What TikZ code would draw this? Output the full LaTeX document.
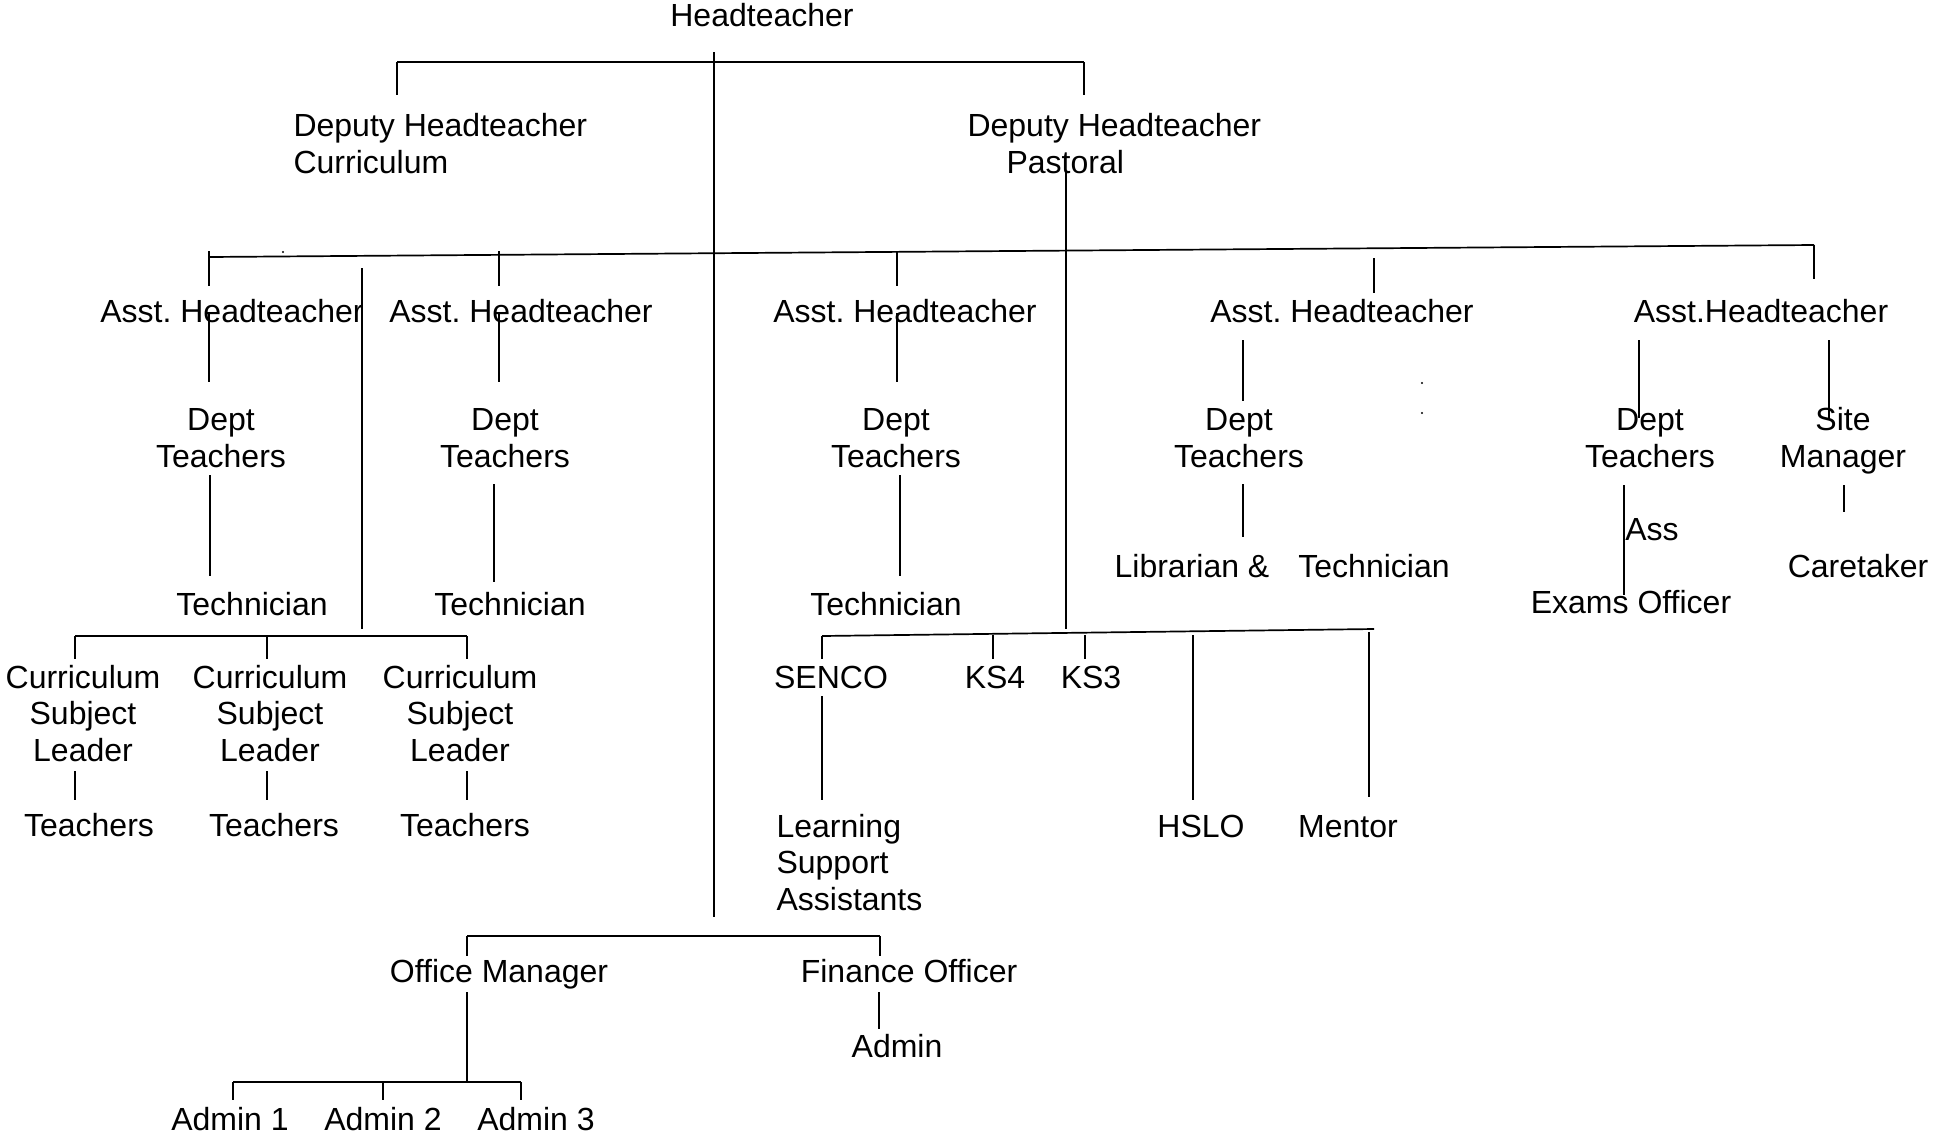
\documentclass[tikz,border=0pt]{standalone}
\usepackage{fontspec}
\setmainfont{Liberation Sans}
\frenchspacing

\begin{document}
\begin{tikzpicture}[x=0.5pt, y=-0.5pt, line width=0.55pt,
    lbl/.style={anchor=base, inner sep=0pt, font=\fontsize{16}{18.25}\selectfont},
    bar/.style={line width=0.85pt}]

    \useasboundingbox (0,0) rectangle (1933,1136);

    % staff (multi-line nodes sit on their last line)
    \node[lbl]                              (head)    at (762,26)    {Headteacher};
    \node[lbl, anchor=base west, align=left] (depcur)  at (293,173)   {Deputy Headteacher\\Curriculum};
    \node[lbl, anchor=base west, align=left] (deppas)  at (967,173)   {Deputy Headteacher\\\hspace*{19.5pt}Pastoral};

    \node[lbl]                              (ah1)     at (232,322)   {Asst. Headteacher};
    \node[lbl]                              (ah2)     at (521,322)   {Asst. Headteacher};
    \node[lbl]                              (ah3)     at (905,322)   {Asst. Headteacher};
    \node[lbl]                              (ah4)     at (1342,322)  {Asst. Headteacher};
    \node[lbl]                              (ah5)     at (1761,322)  {Asst.Headteacher};

    \node[lbl, align=center]                (dt1)     at (221,467)   {Dept\\Teachers};
    \node[lbl, align=center]                (dt2)     at (505,467)   {Dept\\Teachers};
    \node[lbl, align=center]                (dt3)     at (896,467)   {Dept\\Teachers};
    \node[lbl, align=center]                (dt4)     at (1239,467)  {Dept\\Teachers};
    \node[lbl, align=center]                (dt5)     at (1650,467)  {Dept\\Teachers};
    \node[lbl, align=center]                (site)    at (1843,467)  {Site\\Manager};

    \node[lbl]                              (tech1)   at (252,615)   {Technician};
    \node[lbl]                              (tech2)   at (510,615)   {Technician};
    \node[lbl]                              (tech3)   at (886,615)   {Technician};
    \node[lbl]                              (lib)     at (1192,577)  {Librarian \&};
    \node[lbl]                              (tech4)   at (1374,577)  {Technician};
    \node[lbl]                              (ass)     at (1652,540)  {Ass};
    \node[lbl]                              (exams)   at (1631,613)  {Exams Officer};
    \node[lbl]                              (care)    at (1858,577)  {Caretaker};

    \node[lbl, align=center]                (csl1)    at (83,761)    {Curriculum\\Subject\\Leader};
    \node[lbl, align=center]                (csl2)    at (270,761)   {Curriculum\\Subject\\Leader};
    \node[lbl, align=center]                (csl3)    at (460,761)   {Curriculum\\Subject\\Leader};
    \node[lbl]                              (tch1)    at (89,836)    {Teachers};
    \node[lbl]                              (tch2)    at (274,836)   {Teachers};
    \node[lbl]                              (tch3)    at (465,836)   {Teachers};

    \node[lbl]                              (senco)   at (831,688)   {SENCO};
    \node[lbl]                              (ks4)     at (995,688)   {KS4};
    \node[lbl]                              (ks3)     at (1091,688)  {KS3};
    \node[lbl, anchor=base west, align=left] (lsa)     at (776,910)   {Learning\\Support\\Assistants};
    \node[lbl]                              (hslo)    at (1201,837)  {HSLO};
    \node[lbl]                              (mentor)  at (1348,837)  {Mentor};

    \node[lbl]                              (office)  at (499,982)   {Office Manager};
    \node[lbl]                              (finance) at (909,982)   {Finance Officer};
    \node[lbl]                              (fadmin)  at (897,1057)  {Admin};
    \node[lbl]                              (adm1)    at (230,1130)  {Admin 1};
    \node[lbl]                              (adm2)    at (383,1130)  {Admin 2};
    \node[lbl]                              (adm3)    at (536,1130)  {Admin 3};

    % line ends
    \coordinate (hd0) at (714,52);    \coordinate (hd1) at (714,917);
    \coordinate (tb1) at (397,62);    \coordinate (tb2) at (1084,62);
    \coordinate (tb1d) at (397,95);   \coordinate (tb2d) at (1084,95);
    \coordinate (pd0) at (1066,172);  \coordinate (pd1) at (1066,629);

    \coordinate (mb1) at (209,257);   \coordinate (mb2) at (1814,245);
    \coordinate (ta1) at (209,251);   \coordinate (ta1d) at (209,286);
    \coordinate (ta2) at (499,251);   \coordinate (ta2d) at (499,286);
    \coordinate (ta3) at (897,251);   \coordinate (ta3d) at (897,286);
    \coordinate (ta4) at (1374,258);  \coordinate (ta4d) at (1374,293);
    \coordinate (ta5d) at (1814,279);
    \coordinate (cf0) at (362,268);   \coordinate (cf1) at (362,629);

    \coordinate (ad1) at (209,313);   \coordinate (ad1d) at (209,382);
    \coordinate (ad2) at (499,313);   \coordinate (ad2d) at (499,382);
    \coordinate (ad3) at (897,313);   \coordinate (ad3d) at (897,382);
    \coordinate (ad4) at (1243,340);  \coordinate (ad4d) at (1243,401);
    \coordinate (ad5) at (1639,340);  \coordinate (ad5d) at (1639,418);
    \coordinate (ad6) at (1829,340);  \coordinate (ad6d) at (1829,420);

    \coordinate (dv1) at (210,475);   \coordinate (dv1d) at (210,576);
    \coordinate (dv2) at (494,484);   \coordinate (dv2d) at (494,582);
    \coordinate (dv3) at (900,475);   \coordinate (dv3d) at (900,576);
    \coordinate (dv4) at (1243,484);  \coordinate (dv4d) at (1243,537);
    \coordinate (dv5) at (1624,485);  \coordinate (dv5d) at (1624,595);
    \coordinate (dv6) at (1844,485);  \coordinate (dv6d) at (1844,512);

    \coordinate (cb1) at (75,636);    \coordinate (cb1d) at (75,659);
    \coordinate (cb2) at (267,636);   \coordinate (cb2d) at (267,659);
    \coordinate (cb3) at (467,636);   \coordinate (cb3d) at (467,659);
    \coordinate (ct1) at (75,771);    \coordinate (ct1d) at (75,800);
    \coordinate (ct2) at (267,771);   \coordinate (ct2d) at (267,800);
    \coordinate (ct3) at (467,771);   \coordinate (ct3d) at (467,800);

    \coordinate (pb1) at (822,636);   \coordinate (pb1d) at (822,659);
    \coordinate (pb2) at (1374,629);
    \coordinate (pk4) at (993,635);   \coordinate (pk4d) at (993,659);
    \coordinate (pk3) at (1085,635);  \coordinate (pk3d) at (1085,659);
    \coordinate (ph) at (1193,635);   \coordinate (phd) at (1193,800);
    \coordinate (pm) at (1369,632);   \coordinate (pmd) at (1369,797);
    \coordinate (sl) at (822,696);    \coordinate (sld) at (822,800);

    \coordinate (ob1) at (467,936);   \coordinate (ob1d) at (467,956);
    \coordinate (ob2) at (880,936);   \coordinate (ob2d) at (880,956);
    \coordinate (om) at (467,992);    \coordinate (ab2) at (467,1082);
    \coordinate (ab1) at (233,1082);  \coordinate (ab1d) at (233,1100);
    \coordinate (abm) at (383,1082);  \coordinate (abmd) at (383,1100);
    \coordinate (ab3) at (521,1082);  \coordinate (ab3d) at (521,1100);
    \coordinate (fa) at (879,992);    \coordinate (fad) at (879,1029);

    \coordinate (dot1) at (283,252);  \coordinate (dot2) at (1422,383);
    \coordinate (dot3) at (1422,413);

    % bars
    \path[bar]  (tb1) edge (tb2)
                (mb1) edge (mb2)
                (cb1) edge (cb3)
                (pb1) edge (pb2)
                (ob1) edge (ob2)
                (ab1) edge (ab3);

    % drops
    \path   (hd0) edge (hd1)   (tb1) edge (tb1d)  (tb2) edge (tb2d)  (pd0) edge (pd1)
            (ta1) edge (ta1d)  (ta2) edge (ta2d)  (ta3) edge (ta3d)  (ta4) edge (ta4d)
            (mb2) edge (ta5d)  (cf0) edge (cf1)
            (ad1) edge (ad1d)  (ad2) edge (ad2d)  (ad3) edge (ad3d)
            (ad4) edge (ad4d)  (ad5) edge (ad5d)  (ad6) edge (ad6d)
            (dv1) edge (dv1d)  (dv2) edge (dv2d)  (dv3) edge (dv3d)
            (dv4) edge (dv4d)  (dv5) edge (dv5d)  (dv6) edge (dv6d)
            (cb1) edge (cb1d)  (cb2) edge (cb2d)  (cb3) edge (cb3d)
            (ct1) edge (ct1d)  (ct2) edge (ct2d)  (ct3) edge (ct3d)
            (pb1) edge (pb1d)  (pk4) edge (pk4d)  (pk3) edge (pk3d)
            (ph) edge (phd)    (pm) edge (pmd)    (sl) edge (sld)
            (ob1) edge (ob1d)  (ob2) edge (ob2d)  (om) edge (ab2)
            (ab1) edge (ab1d)  (abm) edge (abmd)  (ab3) edge (ab3d)
            (fa) edge (fad);

    \fill (dot1) circle (0.6pt) (dot2) circle (0.6pt) (dot3) circle (0.6pt);
\end{tikzpicture}
\end{document}
